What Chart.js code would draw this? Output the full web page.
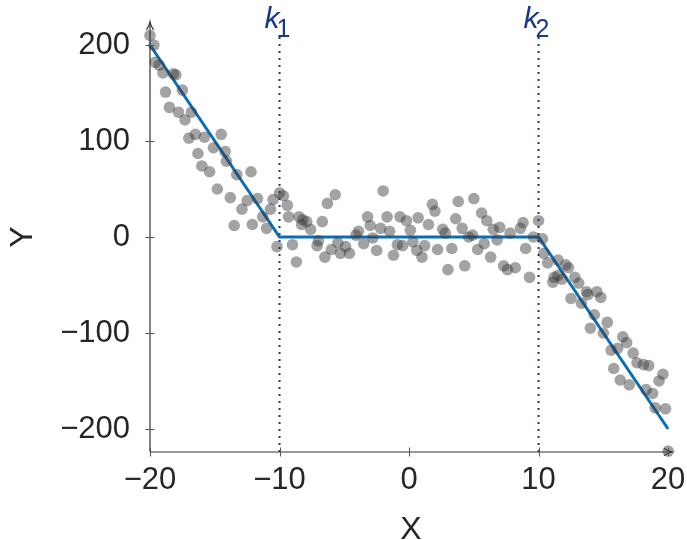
<!DOCTYPE html>
<html>
<head>
<meta charset="utf-8">
<script src="https://cdn.jsdelivr.net/npm/chart.js@4.4.0/dist/chart.umd.min.js"></script>
<style>
  html, body { margin: 0; padding: 0; background: #ffffff; }
  #wrap { width: 687px; height: 540px; }
</style>
</head>
<body>
<div id="wrap"><canvas id="chart" width="687" height="540"></canvas></div>
<script>
// Observed samples
const xValues = [
  -20.0, -19.7, -19.6, -19.3, -19.0, -18.2, -18.0, -18.8, -17.5, -18.5,
  -17.8, -16.8, -17.3, -16.5, -17.0, -15.8, -14.5, -16.3, -15.1, -14.2,
  -14.1, -16.0, -15.4, -13.3, -12.2, -14.8, -13.8, -12.9, -12.5, -11.7,
  -11.3, -12.1, -13.5, -11.0, -10.7, -10.5, -10.0, -9.7, -9.4, -10.2,
  -9.3, -9.0, -8.7, -8.5, -8.2, -7.9, -8.3, -7.6, -6.7, -6.3,
  -5.7, -7.1, -7.0, -6.5, -6.0, -5.5, -5.3, -4.9, -4.6, -4.1,
  -3.9, -3.5, -3.2, -3.0, -2.8, -2.5, -2.2, -2.0, -1.7, -1.5,
  -1.2, -0.9, -0.7, -0.5, -0.2, 0.1, 0.3, 0.6, 0.7, 1.0,
  1.2, 1.5, 1.8, 2.0, 2.2, 2.6, 2.8, 3.0, 3.3, 3.6,
  3.8, 4.1, 4.3, 4.6, 4.9, 5.0, 5.3, 5.6, 5.8, 6.0,
  6.3, 6.5, 6.8, 7.0, 7.3, 7.6, 7.8, 8.2, 8.6, 8.8,
  9.0, 9.3, 9.6, 10.0, 10.3, 10.4, 10.7, 11.2, 11.5, 11.5,
  12.1, 12.3, 11.1, 11.8, 12.8, 13.1, 13.7, 13.8, 14.5, 14.8,
  12.5, 13.3, 14.3, 15.3, 14.0, 15.0, 16.5, 16.8, 16.1, 15.6,
  17.3, 17.6, 18.1, 18.5, 15.8, 16.3, 17.0, 19.6, 19.3, 18.3,
  18.8, 19.0, 19.8, 20.0
];
const yValues = [
  210, 200, 182, 179, 171, 170, 169, 151, 153, 135,
  130, 130, 122, 107, 103, 104, 107, 87, 93, 89,
  79, 74, 68, 65, 68, 50, 41, 29, 38, 40,
  21, 13, 12, 9, 29, 39, 46, 43, 33, -10,
  21, -8, -26, 21, 18, 16, 13, 8, 16, 35,
  44, -9, -4, -21, -13, -6, -17, -10, -17, 2,
  6, -7, 21, 12, -1, -14, 9, 48, 21, 6,
  -19, -8, 21, -9, 17, 7, -5, -14, 20, -21,
  -9, 13, 34, 27, -13, 8, 4, -34, -12, 19,
  37, 9, -30, 0, 2, 40, -13, 25, -7, 17,
  -21, 8, -3, 10, -30, -34, 4, -32, 9, 15,
  -12, -42, 0, 17, -2, -17, -27, -42, -40, -24,
  -29, -32, -47, -44, -42, -48, -57, -60, -57, -63,
  -64, -69, -81, -89, -95, -100, -104, -110, -116, -118,
  -121, -131, -133, -134, -137, -149, -154, -143, -150, -159,
  -163, -178, -179, -223
];

// Piecewise linear fit
const fitX = [-20, -10, 10, 20];
const fitY = [200, 0, 0, -200];

// Knot positions and their subscripts
const knotX = [-10, 10];
const knotNames = ['1', '2'];

// Axes
const xTicks = [-20, -10, 0, 10, 20];
const yTicks = [-200, -100, 0, 100, 200];
const xRange = [-20, 20.3];
const yRange = [-224, 224];
const knotLineTop = 212;

const scatterData = xValues.map((x, i) => ({ x: x, y: yValues[i] }));
const fitData = fitX.map((x, i) => ({ x: x, y: fitY[i] }));

const knotColor = '#183a86';
const axisColor = '#333333';

function fmt(v) {
  return v < 0 ? '\u2212' + Math.abs(v) : String(v);
}

const knotDatasets = knotX.map(k => ({
  type: 'line',
  data: [{ x: k, y: yRange[0] }, { x: k, y: knotLineTop }],
  borderColor: knotColor,
  borderWidth: 2,
  borderDash: [2, 5],
  pointRadius: 0,
  fill: false,
  order: 2,
  clip: false
}));

// Axis lines with arrow heads, crossing tick marks and knot labels
const decorations = {
  id: 'decorations',
  afterDraw(chart) {
    const ctx = chart.ctx;
    const a = chart.chartArea;
    const xs = chart.scales.x, ys = chart.scales.y;
    ctx.save();
    ctx.strokeStyle = axisColor;
    ctx.lineWidth = 1.2;
    ctx.beginPath();
    ctx.moveTo(a.left, a.bottom);
    ctx.lineTo(a.left, a.top);
    ctx.moveTo(a.left, a.bottom);
    ctx.lineTo(a.right, a.bottom);
    ctx.stroke();
    // arrow heads
    ctx.beginPath();
    ctx.moveTo(a.left - 3.5, a.top + 8);
    ctx.quadraticCurveTo(a.left - 0.5, a.top + 3, a.left, a.top);
    ctx.quadraticCurveTo(a.left + 0.5, a.top + 3, a.left + 3.5, a.top + 8);
    ctx.moveTo(a.right - 8, a.bottom - 3.5);
    ctx.quadraticCurveTo(a.right - 3, a.bottom - 0.5, a.right, a.bottom);
    ctx.quadraticCurveTo(a.right - 3, a.bottom + 0.5, a.right - 8, a.bottom + 3.5);
    ctx.stroke();
    // tick marks
    ctx.strokeStyle = '#555555';
    ctx.lineWidth = 1;
    ctx.beginPath();
    yTicks.forEach(v => {
      const p = Math.round(ys.getPixelForValue(v)) + 0.5;
      ctx.moveTo(a.left - 4.5, p);
      ctx.lineTo(a.left + 4.5, p);
    });
    xTicks.forEach(v => {
      const p = Math.round(xs.getPixelForValue(v)) + 0.5;
      ctx.moveTo(p, a.bottom - 4.5);
      ctx.lineTo(p, a.bottom + 4.5);
    });
    ctx.stroke();
    // knot labels k1, k2
    ctx.fillStyle = knotColor;
    ctx.textAlign = 'left';
    ctx.textBaseline = 'alphabetic';
    knotX.forEach((k, i) => {
      const px = xs.getPixelForValue(k);
      ctx.font = 'italic 30px "Liberation Sans", Arial, sans-serif';
      ctx.fillText('k', px - 15, 28);
      ctx.font = '25px "Liberation Sans", Arial, sans-serif';
      ctx.fillText(knotNames[i], px - 3, 37);
    });
    ctx.restore();
  }
};

const tickFont = { family: '"Liberation Sans", Arial, sans-serif', size: 31 };
const titleFont = { family: '"Liberation Sans", Arial, sans-serif', size: 32 };

new Chart(document.getElementById('chart'), {
  type: 'scatter',
  data: {
    datasets: [
      {
        type: 'scatter',
        data: scatterData,
        backgroundColor: 'rgba(60,60,60,0.47)',
        borderWidth: 0,
        pointRadius: 5.8,
        pointHoverRadius: 5.8,
        order: 0,
        clip: false
      },
      {
        type: 'line',
        data: fitData,
        borderColor: '#0b6db5',
        borderWidth: 3,
        pointRadius: 0,
        fill: false,
        order: 1,
        clip: false
      },
      ...knotDatasets
    ]
  },
  options: {
    responsive: false,
    animation: false,
    devicePixelRatio: 1,
    layout: { padding: { top: 22, right: 15, left: 0, bottom: 0 } },
    plugins: { legend: { display: false }, tooltip: { enabled: false } },
    scales: {
      x: {
        type: 'linear',
        min: xRange[0],
        max: xRange[1],
        grid: { display: false, drawTicks: false },
        border: { display: false },
        afterBuildTicks: s => { s.ticks = xTicks.map(v => ({ value: v })); },
        afterFit: s => { s.height = 88; s.paddingLeft = 0; s.paddingRight = 0; },
        ticks: {
          color: '#262626',
          font: tickFont,
          padding: 10,
          maxRotation: 0,
          callback: v => fmt(v)
        },
        title: {
          display: true,
          text: 'X',
          color: '#262626',
          font: { ...titleFont, lineHeight: 0.6 },
          padding: 0
        }
      },
      y: {
        type: 'linear',
        min: yRange[0],
        max: yRange[1],
        grid: { display: false, drawTicks: false },
        border: { display: false },
        afterBuildTicks: s => { s.ticks = yTicks.map(v => ({ value: v })); },
        afterFit: s => { s.width = 150; s.paddingTop = 0; s.paddingBottom = 0; },
        ticks: {
          color: '#262626',
          font: tickFont,
          padding: 20,
          callback: v => fmt(v)
        },
        title: {
          display: true,
          text: 'Y',
          color: '#262626',
          font: { ...titleFont, lineHeight: 1.2 },
          padding: { top: 4, bottom: 0 }
        }
      }
    }
  },
  plugins: [decorations]
});
</script>
</body>
</html>
